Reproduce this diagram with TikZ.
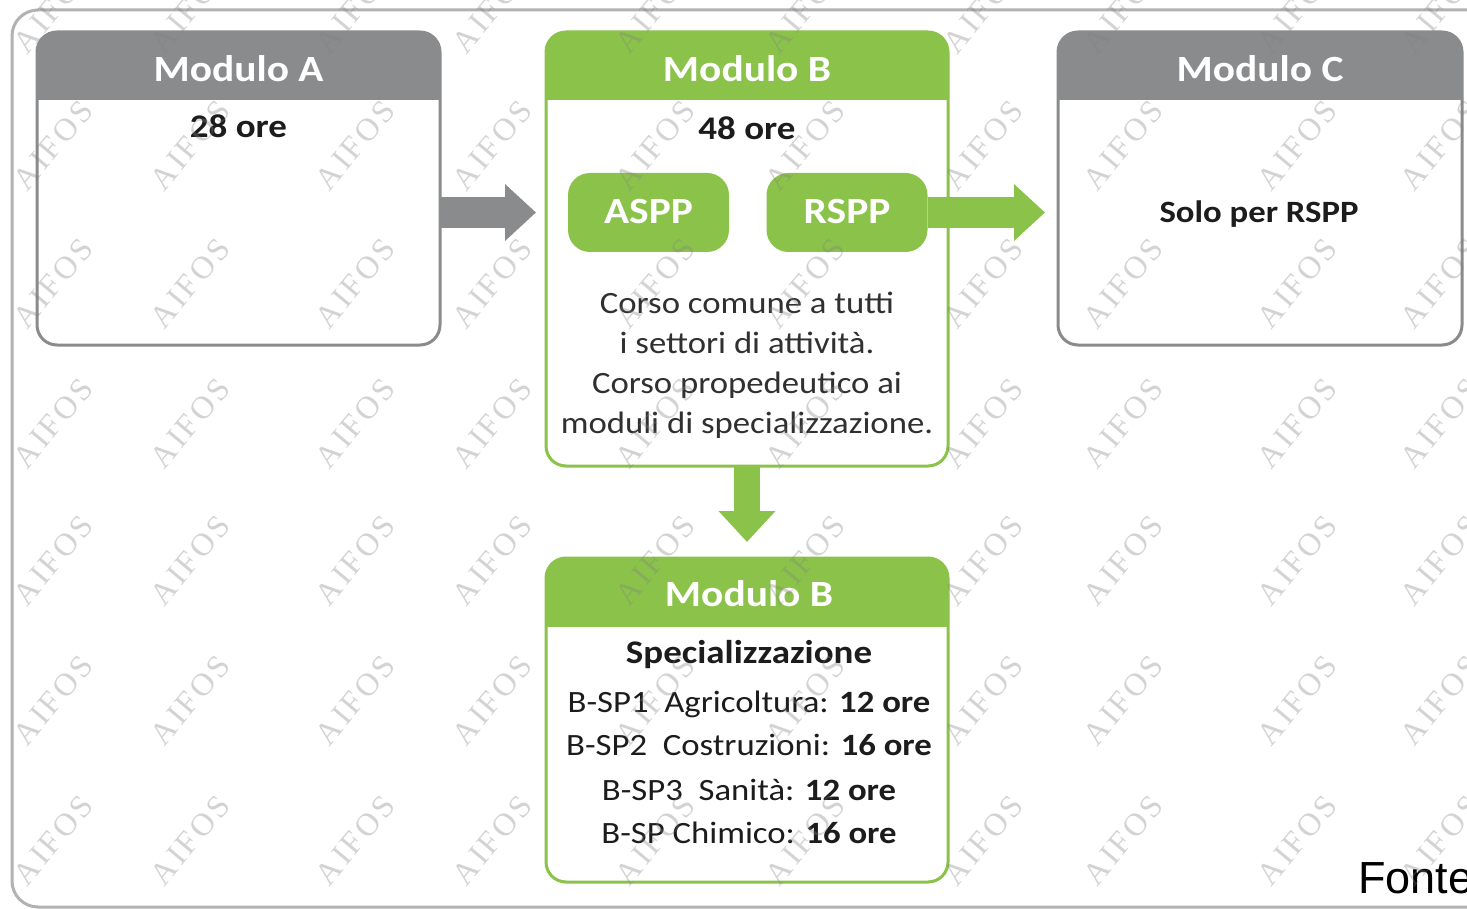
\documentclass[tikz,border=0pt]{standalone}
\usepackage{fontspec}
\setmainfont{Carlito}
\newfontfamily\fontefont{Liberation Sans}
\newfontfamily\wmfont[LetterSpace=10]{Liberation Serif}
\usetikzlibrary{arrows.meta}

\definecolor{hdrgray}{HTML}{8A8B8D}
\definecolor{leaf}{HTML}{8BC34A}
\definecolor{framegray}{HTML}{B2B2B2}
\definecolor{ink}{HTML}{1C1C1C}
\definecolor{bodyink}{HTML}{303030}

% card with a coloured title band and a coloured outline
\newcommand\drawcard[2]{%
  \fill[white, rounded corners=20pt] (#1.north west) rectangle (#1.south east);
  \begin{scope}
    \clip (#1.north west) rectangle ([yshift=-68pt]#1.north east);
    \fill[#2, rounded corners=20pt] (#1.north west) rectangle (#1.south east);
  \end{scope}
  \draw[#2, line width=3pt, rounded corners=20pt] (#1.north west) rectangle (#1.south east);
}

\begin{document}
\begin{tikzpicture}[x=1pt, y=-1pt,
  cardshape/.style={rectangle, inner sep=0pt, outer sep=0pt},
  pill/.style={rectangle, fill=leaf, rounded corners=22pt, inner sep=0pt, outer sep=0pt,
    minimum width=161pt, minimum height=79pt},
  txt/.style={anchor=base, inner sep=0pt, xscale=1.12},
  hdr/.style={txt, text=white, font=\fontsize{37}{42}\selectfont\bfseries},
  hours/.style={txt, text=ink, font=\fontsize{33}{38}\selectfont\bfseries},
  bodytxt/.style={txt, text=bodyink, font=\fontsize{31}{36}\selectfont},
  spec/.style={txt, text=ink, font=\fontsize{31}{36}\selectfont},
  wm/.style={rotate=50, text=gray, text opacity=0.34, inner sep=0pt,
    font=\wmfont\fontsize{32}{32}\selectfont},
  flow/.style={line width=31pt, -{Triangle[length=31pt, width=55pt]}}
]
\useasboundingbox (0,0) rectangle (1467,909);
\fill[white] (0,0) rectangle (1467,909);
\clip (0,0) rectangle (1467,909);

% outer frame
\draw[framegray, line width=3pt, rounded corners=26pt] (12,10) rectangle (1510,907);

% card outlines
\node[cardshape, minimum width=403pt, minimum height=313pt] (A)  at (238.5,188.5) {};
\node[cardshape, minimum width=402pt, minimum height=434pt] (Bt) at (747,249) {};
\node[cardshape, minimum width=404pt, minimum height=313pt] (C)  at (1260,188.5) {};
\node[cardshape, minimum width=402pt, minimum height=324pt] (Bb) at (747,720) {};

\drawcard{A}{hdrgray}
\drawcard{Bt}{leaf}
\drawcard{C}{hdrgray}
\drawcard{Bb}{leaf}

% role badges
\node[pill] (aspp) at (648.5,212.5) {};
\node[pill] (rspp) at (847,212.5) {};

% titles
\node[hdr] (At)  at (238.5,82) {Modulo A};
\node[hdr] (Btt) at (747,82) {Modulo B};
\node[hdr] (Ct)  at (1260,82) {Modulo C};
\node[hdr] (Bbt) at (749,606) {Modulo B};
\node[hdr] (asppt) at (648.5,224) {ASPP};
\node[hdr] (rsppt) at (847,224) {RSPP};

% contents
\node[hours] (Ah) at (238.5,138) {28 ore};
\node[hours] (Bh) at (747,140) {48 ore};
\node[hours, font=\fontsize{31}{36}\selectfont\bfseries] (Cs) at (1259,223) {Solo per RSPP};

\node[bodytxt] (c1) at (747,313) {Corso comune a tutti};
\node[bodytxt] (c2) at (747,353) {i settori di attività.};
\node[bodytxt] (c3) at (747,393) {Corso propedeutico ai};
\node[bodytxt] (c4) at (747,433) {moduli di specializzazione.};

\node[hours] (sp) at (749,663) {Specializzazione};
\node[spec] (s1) at (749,712) {B-SP1\ \ Agricoltura: \textbf{12 ore}};
\node[spec] (s2) at (749,755) {B-SP2\ \ Costruzioni: \textbf{16 ore}};
\node[spec] (s3) at (749,800) {B-SP3\ \ Sanità: \textbf{12 ore}};
\node[spec] (s4) at (749,843) {B-SP Chimico: \textbf{16 ore}};

% connectors
\draw[flow, hdrgray, shorten >=10pt] (A.east |- aspp.center) -- (Bt.west |- aspp.center);
\draw[flow, leaf, shorten >=13pt] (rspp.east) -- (C.west |- rspp.center);
\draw[flow, leaf, line width=26pt, shorten >=16pt] (Bt.south) -- (Bb.north);

% source note
\node[anchor=base west, inner sep=0pt, font=\fontefont\fontsize{45}{50}\selectfont] (fonte) at (1358,893) {Fonte};

% watermark
\foreach \x in {53,190,355,492,655,805,983,1123,1297,1440}{
  \foreach \y in {8,145,283,423,560,700,840}{
    \node[wm] (wm-\x-\y) at (\x,\y) {AIFOS};
  }
}
\end{tikzpicture}
\end{document}
